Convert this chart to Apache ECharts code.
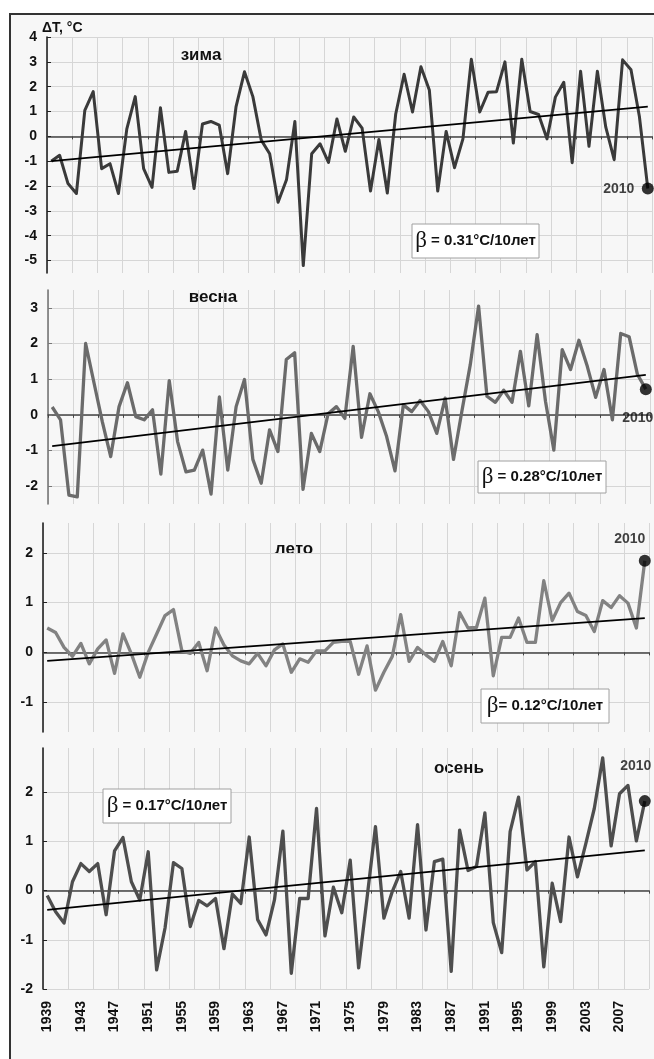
<!DOCTYPE html>
<html>
<head>
<meta charset="utf-8">
<script src="https://cdn.jsdelivr.net/npm/echarts@6/dist/echarts.min.js"></script>
<style>
    html, body { margin: 0; padding: 0; background: #fff; }
    #chart { width: 654px; height: 1059px; }
</style>
</head>
<body>
<div id="chart"></div>
<script>
var years = [];
for (var y = 1939; y <= 2010; y++) years.push(String(y));

// зима
var winter = [-1.0, -0.76, -1.9, -2.3, 1.05, 1.8, -1.3, -1.1, -2.3, 0.3,
    1.6, -1.3, -2.05, 1.15, -1.45, -1.4, 0.2, -2.1, 0.5, 0.6,
    0.45, -1.5, 1.2, 2.6, 1.6, -0.15, -0.7, -2.65, -1.75, 0.6,
    -5.2, -0.7, -0.3, -1.05, 0.7, -0.6, 0.78, 0.33, -2.2, -0.13,
    -2.28, 0.9, 2.5, 0.98, 2.8, 1.87, -2.2, 0.2, -1.26, -0.1,
    3.1, 0.98, 1.78, 1.8, 3.0, -0.27, 3.1, 1.0, 0.88, -0.1,
    1.58, 2.18, -1.06, 2.62, -0.4, 2.62, 0.37, -0.94, 3.08, 2.68,
    0.8, -2.1];
// весна
var spring = [0.22, -0.14, -2.25, -2.3, 2.0, 0.9, -0.2, -1.17, 0.23, 0.9,
    -0.05, -0.14, 0.14, -1.66, 0.96, -0.75, -1.6, -1.55, -0.99, -2.22,
    0.5, -1.55, 0.23, 0.99, -1.25, -1.92, -0.42, -1.03, 1.55, 1.74,
    -2.09, -0.52, -1.03, 0.03, 0.23, -0.1, 1.92, -0.63, 0.59, 0.09,
    -0.61, -1.57, 0.28, 0.09, 0.4, 0.09, -0.52, 0.47, -1.25, 0.1,
    1.4, 3.05, 0.52, 0.35, 0.69, 0.35, 1.78, 0.25, 2.25, 0.38,
    -0.99, 1.83, 1.27, 2.09, 1.36, 0.49, 1.27, -0.14, 2.28, 2.19,
    1.13, 0.72];
// лето
var summer = [0.49, 0.40, 0.10, -0.08, 0.18, -0.23, 0.07, 0.25, -0.42, 0.37,
    -0.03, -0.5, 0.0, 0.37, 0.74, 0.86, 0.03, -0.02, 0.2, -0.37,
    0.49, 0.15, -0.07, -0.17, -0.23, -0.02, -0.27, 0.05, 0.17, -0.4,
    -0.13, -0.2, 0.03, 0.03, 0.2, 0.22, 0.22, -0.44, 0.13, -0.76,
    -0.4, -0.08, 0.76, -0.18, 0.1, -0.05, -0.18, 0.22, -0.27, 0.8,
    0.49, 0.5, 1.09, -0.47, 0.3, 0.3, 0.69, 0.2, 0.2, 1.44,
    0.64, 1.0, 1.19, 0.82, 0.74, 0.42, 1.04, 0.9, 1.14, 0.99,
    0.49, 1.84];
// осень
var autumn = [-0.1, -0.43, -0.66, 0.18, 0.55, 0.39, 0.55, -0.49, 0.81, 1.08,
    0.18, -0.19, 0.79, -1.61, -0.76, 0.57, 0.45, -0.73, -0.2, -0.31,
    -0.16, -1.18, -0.07, -0.26, 1.09, -0.59, -0.9, -0.19, 1.21, -1.68,
    -0.16, -0.16, 1.67, -0.92, 0.07, -0.45, 0.62, -1.57, -0.15, 1.3,
    -0.56, -0.02, 0.39, -0.56, 1.34, -0.8, 0.59, 0.64, -1.64, 1.23,
    0.41, 0.49, 1.58, -0.65, -1.26, 1.2, 1.9, 0.42, 0.59, -1.55,
    0.15, -0.63, 1.09, 0.28, 0.96, 1.67, 2.7, 0.91, 1.97, 2.14,
    1.01, 1.82];

// linear trend, start (1939) and end (2010) values
var trendWinter = [-1.0, 1.2];
var trendSpring = [-0.88, 1.12];
var trendSummer = [-0.17, 0.69];
var trendAutumn = [-0.39, 0.82];

var seasonNames = ['зима', 'весна', 'лето', 'осень'];
var betaTexts = ['β = 0.31°C/10лет', 'β = 0.28°C/10лет', 'β= 0.12°C/10лет', 'β = 0.17°C/10лет'];

var yTicksWinter = [-5, -4, -3, -2, -1, 0, 1, 2, 3, 4];
var yTicksSpring = [-2, -1, 0, 1, 2, 3];
var yTicksSummer = [-1, 0, 1, 2];
var yTicksAutumn = [-2, -1, 0, 1, 2];

var FONT = '"Liberation Sans", Arial, sans-serif';

var panels = [
    { values: winter, trend: trendWinter, ticks: yTicksWinter, min: -5.5, max: 4,
      grid: { left: 47, top: 37, width: 605, height: 236 },
      lineColor: '#3a3a3a', lineWidth: 3, axisColor: '#222',
      title: [201, 55], box: [412, 224, 127, 34], tag: [-29, 1] },
    { values: spring, trend: trendSpring, ticks: yTicksSpring, min: -2.5, max: 3.5,
      grid: { left: 48, top: 290, width: 602, height: 214 },
      lineColor: '#6b6b6b', lineWidth: 3.3, axisColor: '#777',
      title: [213, 297], box: [478, 461, 128, 32], tag: [-8, 29] },
    { values: summer, trend: trendSummer, ticks: yTicksSummer, min: -1.6, max: 2.6,
      grid: { left: 43, top: 523, width: 606, height: 209 },
      lineColor: '#828282', lineWidth: 3.3, axisColor: '#222',
      title: [294, 549], box: [481, 689, 128, 34], tag: [-15, -22] },
    { values: autumn, trend: trendAutumn, ticks: yTicksAutumn, min: -2, max: 2.9,
      grid: { left: 43, top: 748, width: 606, height: 241 },
      lineColor: '#4e4e4e', lineWidth: 3.3, axisColor: '#222',
      title: [459, 768], box: [103, 789, 128, 34], tag: [-9, -35] }
];

var grids = [], xAxes = [], yAxes = [], series = [];
var graphics = [{
    type: 'rect', z: -10, silent: true,
    shape: { x: 10, y: 14, width: 660, height: 1060 },
    style: { fill: '#f7f7f7', stroke: '#333', lineWidth: 2 }
}, {
    type: 'text', x: 42, y: 28,
    style: { text: 'ΔT, °C', font: 'bold 14px ' + FONT, fill: '#111', verticalAlign: 'middle' }
}];

panels.forEach(function (p, i) {
    grids.push(p.grid);
    xAxes.push({
        type: 'category', gridIndex: i, data: years, boundaryGap: true, position: 'bottom',
        axisLine: { onZero: true, lineStyle: { color: '#444', width: 1.5 } },
        axisTick: { show: true, interval: 2, length: 3, lineStyle: { color: '#444' } },
        axisLabel: { show: false },
        splitLine: { show: true, interval: 2, lineStyle: { color: '#d6d6d6', width: 1 } }
    });
    yAxes.push({
        type: 'value', gridIndex: i, min: p.min, max: p.max,
        axisLine: { show: true, lineStyle: { color: p.axisColor, width: 1.6 } },
        axisTick: { show: true, inside: true, length: 4, customValues: p.ticks, lineStyle: { color: p.axisColor } },
        axisLabel: { customValues: p.ticks, margin: 10, fontSize: 14, fontWeight: 'bold', color: '#111', fontFamily: FONT },
        splitLine: { show: true, lineStyle: { color: '#d6d6d6', width: 1 } }
    });
    series.push({
        type: 'line', xAxisIndex: i, yAxisIndex: i, data: p.values,
        symbol: 'none', z: 3,
        lineStyle: { color: p.lineColor, width: p.lineWidth, join: 'round' }
    });
    series.push({
        type: 'line', xAxisIndex: i, yAxisIndex: i, symbol: 'none', z: 4,
        data: [[years[0], p.trend[0]], [years[years.length - 1], p.trend[1]]],
        lineStyle: { color: '#000', width: 1.8 }
    });
    var last = years.length - 1;
    series.push({
        type: 'scatter', xAxisIndex: i, yAxisIndex: i, z: 5,
        data: [[years[last], p.values[last]]],
        symbolSize: 12, itemStyle: { color: '#000' },
        label: {
            show: true, position: 'inside', offset: p.tag,
            formatter: function () { return years[last]; },
            fontSize: 14, fontWeight: 'bold', color: '#111', fontFamily: FONT
        }
    });

    graphics.push({
        type: 'text', x: p.title[0], y: p.title[1],
        style: { text: seasonNames[i], font: 'bold 17px ' + FONT, fill: '#111', align: 'center', verticalAlign: 'middle' }
    });
    graphics.push({
        type: 'rect', shape: { x: p.box[0], y: p.box[1], width: p.box[2], height: p.box[3] },
        style: { fill: '#fff', stroke: '#a0a0a0', lineWidth: 1 }, z: 6
    });
    var bt = betaTexts[i];
    graphics.push({
        type: 'text', x: p.box[0] + p.box[2] / 2, y: p.box[1] + p.box[3] / 2, z: 7,
        style: {
            text: '{g|' + bt.charAt(0) + '}{t|' + bt.slice(1) + '}',
            align: 'center', verticalAlign: 'middle',
            rich: {
                g: { fontFamily: '"Liberation Serif", serif', fontSize: 23, fill: '#111' },
                t: { fontFamily: FONT, fontWeight: 'bold', fontSize: 15, fill: '#111' }
            }
        }
    });
});

// year labels under the last panel
xAxes.push({
    type: 'category', gridIndex: 3, data: years, boundaryGap: true, position: 'bottom',
    axisLine: { show: false, onZero: false },
    axisTick: { show: false },
    splitLine: { show: false },
    axisLabel: { interval: 3, rotate: 90, margin: 12, fontSize: 14, fontWeight: 'bold', color: '#111', fontFamily: FONT }
});

var myChart = echarts.init(document.getElementById('chart'));
myChart.setOption({
    animation: false,
    grid: grids,
    xAxis: xAxes,
    yAxis: yAxes,
    series: series,
    graphic: graphics
});
</script>
</body>
</html>
